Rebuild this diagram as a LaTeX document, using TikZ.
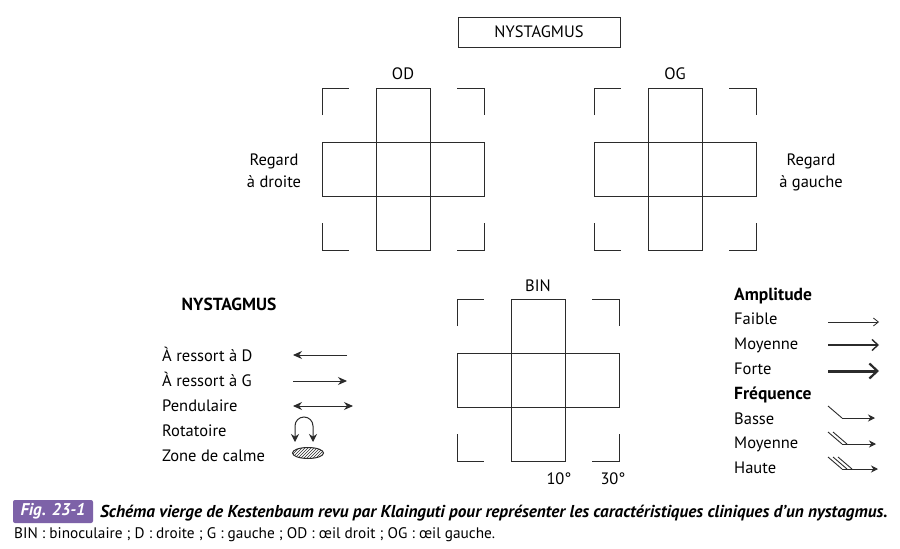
\documentclass[tikz,border=0pt]{standalone}
\usepackage{fontspec}
\setmainfont{PT Sans}
\usetikzlibrary{arrows.meta,patterns}
\definecolor{ink}{HTML}{2B2B2B}
\definecolor{figpurple}{HTML}{7D62A8}
\tikzset{
  gline/.style={draw=ink,line width=1pt},
  lbl/.style={font=\fontsize{16.5}{22}\selectfont,text=black,inner sep=0pt},
  blbl/.style={font=\fontsize{17.5}{22}\selectfont\bfseries,text=black,inner sep=0pt},
  legarrow/.style={draw=ink,line width=0.9pt},
  ltip/.tip={Stealth[length=9pt,width=8pt]},
  gridcross/.pic={
    \draw[gline] (54,0) rectangle (108,162);
    \draw[gline] (0,54) rectangle (162,108);
    \draw[gline] (0,27) -- (0,0) -- (27,0);
    \draw[gline] (135,0) -- (162,0) -- (162,27);
    \draw[gline] (0,135) -- (0,162) -- (27,162);
    \draw[gline] (135,162) -- (162,162) -- (162,135);
  }
}
\begin{document}
\begin{tikzpicture}[x=1pt,y=-1pt]
\useasboundingbox (0,0) rectangle (900,549);
\fill[white] (0,0) rectangle (900,549);
% title box
\node[lbl,draw=ink,line width=1pt,minimum width=162pt,minimum height=30pt] (title) at (539,32) {NYSTAGMUS};
% grids
\pic (od) at (322,88) {gridcross};
\pic (og) at (594,88) {gridcross};
\pic (bin) at (457,299) {gridcross};
\node[lbl,anchor=base] (odl) at (403,79) {OD};
\node[lbl,anchor=base] (ogl) at (675,79) {OG};
\node[lbl,anchor=base] (binl) at (538,291) {BIN};
\node[lbl,anchor=base] (d10) at (559,484) {10°};
\node[lbl,anchor=base] (d30) at (613,484) {30°};
\node[lbl,align=center,anchor=base] (rd) at (274,187) {Regard\\à droite};
\node[lbl,align=center,anchor=base] (rg) at (811,187) {Regard\\à gauche};
% left legend
\node[blbl,anchor=base] (nyl) at (229,310) {NYSTAGMUS};
\node[lbl,anchor=base west] (i1) at (162,361) {À ressort à D};
\node[lbl,anchor=base west] (i2) at (162,386) {À ressort à G};
\node[lbl,anchor=base west] (i3) at (162,411) {Pendulaire};
\node[lbl,anchor=base west] (i4) at (162,436) {Rotatoire};
\node[lbl,anchor=base west] (i5) at (162,461) {Zone de calme};
\coordinate (a1s) at (347,355); \coordinate (a1e) at (293,355);
\coordinate (a2s) at (293,381); \coordinate (a2e) at (347,381);
\coordinate (a3s) at (293,406); \coordinate (a3e) at (353,406);
\draw[legarrow,-ltip] (a1s) -- (a1e);
\draw[legarrow,-ltip] (a2s) -- (a2e);
\draw[legarrow,ltip-ltip] (a3s) -- (a3e);
\draw[legarrow,line width=1pt,{Stealth[length=8pt,width=8pt]}-{Stealth[length=8pt,width=8pt]}] (295,442) -- (295,426) arc[start angle=180,end angle=360,radius=9] -- (313,442);
\draw[draw=ink,line width=1pt,pattern=north east lines,pattern color=ink] (308,453) ellipse [x radius=15.5pt,y radius=5.5pt];
% right legend
\node[blbl,anchor=base west] (amp) at (734,300) {Amplitude};
\node[lbl,anchor=base west] (j1) at (734,324) {Faible};
\node[lbl,anchor=base west] (j2) at (734,349) {Moyenne};
\node[lbl,anchor=base west] (j3) at (734,374) {Forte};
\node[blbl,anchor=base west] (freq) at (734,399) {Fréquence};
\node[lbl,anchor=base west] (j4) at (734,424) {Basse};
\node[lbl,anchor=base west] (j5) at (734,448) {Moyenne};
\node[lbl,anchor=base west] (j6) at (734,473) {Haute};
\coordinate (f1s) at (828,322); \coordinate (f1e) at (879,322);
\coordinate (f2s) at (828,345); \coordinate (f2e) at (879,345);
\coordinate (f3s) at (828,371); \coordinate (f3e) at (879,371);
\draw[draw=ink,line width=0.6pt,-{Straight Barb[length=5pt,width=8pt,line width=0.8pt]}] (f1s) -- (f1e);
\draw[draw=ink,line width=1.4pt,-{Straight Barb[length=6pt,width=11pt,line width=1.4pt]}] (f2s) -- (f2e);
\draw[draw=ink,line width=3pt,-{Straight Barb[length=8pt,width=15pt,line width=2.2pt]}] (f3s) -- (f3e);
\tikzset{fq/.style={draw=ink,line width=0.9pt},fqa/.style={fq,-{Stealth[length=7pt,width=7pt]}}}
\draw[fq] (828,406) -- (842,418);
\draw[fqa] (842,418) -- (875,418);
\draw[fq] (828,432) -- (842,444);
\draw[fq] (833,432) -- (847,444);
\draw[fqa] (842,444) -- (876,444);
\draw[fq] (828,457) -- (842,469);
\draw[fq] (833,457) -- (847,469);
\draw[fq] (838,457) -- (852,469);
\draw[fqa] (842,469) -- (878,469);
% caption
\fill[figpurple,rounded corners=2pt] (13,500) rectangle (93,523);
\node[font=\fontsize{17}{18}\selectfont\bfseries\itshape,text=white,inner sep=0pt] (fig) at (53,511.5) {Fig. 23-1};
\node[font=\fontsize{17.2}{18}\selectfont\bfseries\itshape,anchor=base west,inner sep=0pt] (cap1) at (100,517) {Schéma vierge de Kestenbaum revu par Klainguti pour représenter les caractéristiques cliniques d’un nystagmus.};
\node[font=\fontsize{15.3}{18}\selectfont,anchor=base west,inner sep=0pt] (cap2) at (14,538) {BIN : binoculaire ; D : droite ; G : gauche ; OD : œil droit ; OG : œil gauche.};
\end{tikzpicture}
\end{document}
